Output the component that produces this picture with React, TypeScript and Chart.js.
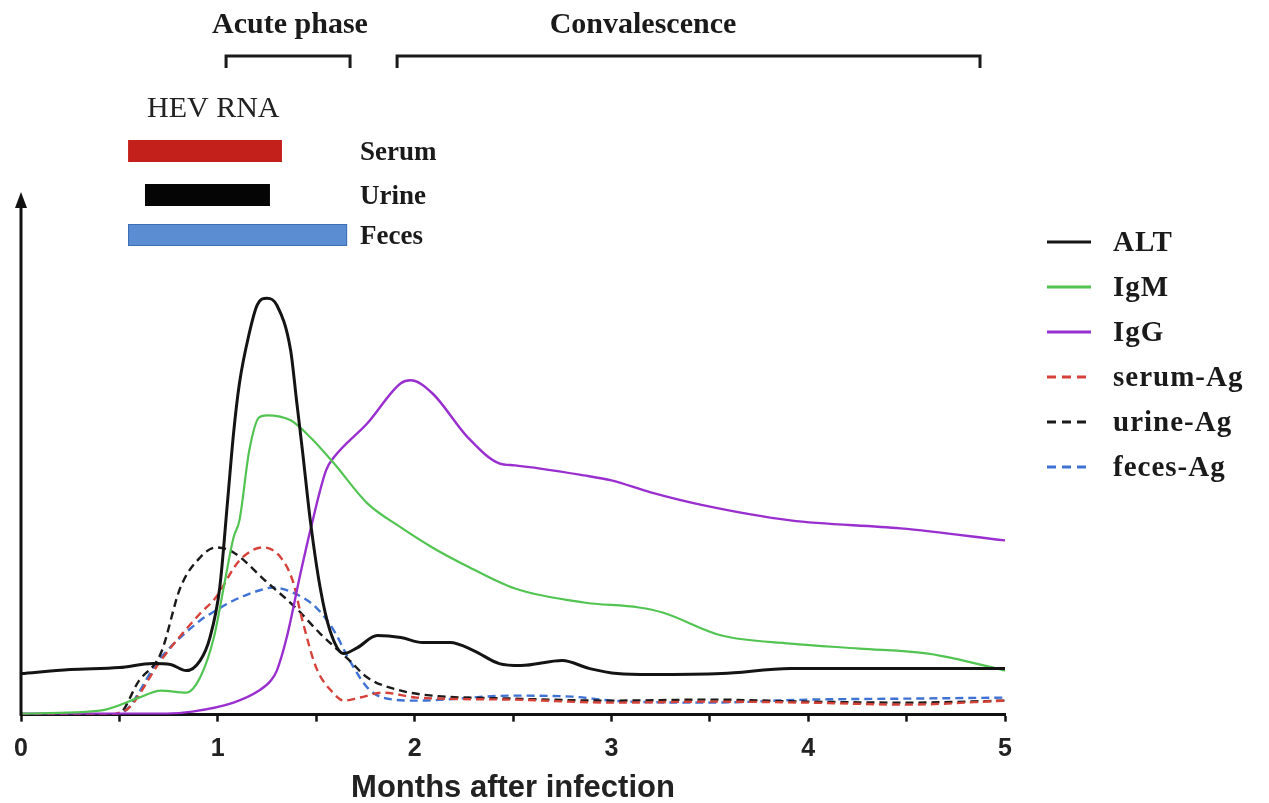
import React, { useEffect, useRef } from "react";
import { Chart, registerables } from "chart.js";

Chart.register(...registerables);

// ---- Data (x in months after infection, y in arbitrary units) ----
const altX = [0, 0.25, 0.5, 0.67, 0.76, 0.84, 0.91, 0.96, 1.01, 1.05, 1.08, 1.11, 1.16, 1.2, 1.25, 1.3, 1.37, 1.4, 1.43, 1.47, 1.52, 1.57, 1.64, 1.71, 1.81, 1.93, 2.04, 2.18, 2.3, 2.43, 2.54, 2.75, 2.89, 3.03, 3.2, 3.56, 3.91, 4.47, 5];
const altY = [41, 45, 47, 51, 50, 44, 54, 77, 127, 214, 281, 331, 381, 409, 416, 409, 364, 314, 264, 194, 127, 84, 61, 67, 79, 77, 72, 72, 64, 51, 49, 54, 46, 41, 40, 41, 46, 46, 46];

const igmX = [0, 0.4, 0.6, 0.71, 0.84, 0.91, 0.98, 1.03, 1.08, 1.11, 1.16, 1.21, 1.25, 1.37, 1.47, 1.59, 1.76, 1.93, 2.09, 2.28, 2.51, 2.86, 3.14, 3.26, 3.56, 3.91, 4.26, 4.61, 4.79, 5];
const igmY = [1, 4, 17, 24, 22, 37, 77, 127, 177, 194, 264, 297, 299, 294, 277, 251, 211, 187, 167, 147, 126, 112, 107, 102, 79, 71, 66, 61, 54, 44];

const iggX = [0, 0.49, 0.74, 0.87, 1.08, 1.21, 1.27, 1.3, 1.35, 1.42, 1.47, 1.55, 1.59, 1.76, 1.93, 1.98, 2.09, 2.27, 2.43, 2.51, 2.86, 3.0, 3.2, 3.47, 3.91, 4.47, 5];
const iggY = [1, 1, 1, 3, 12, 24, 34, 44, 77, 141, 184, 244, 257, 291, 331, 334, 321, 277, 251, 249, 239, 234, 222, 209, 194, 186, 174];

const serumAgX = [0, 0.45, 0.5, 0.55, 0.71, 0.91, 0.99, 1.11, 1.23, 1.32, 1.38, 1.43, 1.5, 1.59, 1.64, 1.72, 1.84, 2.01, 2.5, 3.0, 3.5, 4.0, 4.5, 5];
const serumAgY = [0, 0, 2, 7, 54, 101, 117, 154, 167, 157, 134, 94, 47, 21, 14, 17, 22, 17, 15, 12, 13, 12, 10, 14];

const urineAgX = [0, 0.49, 0.6, 0.71, 0.81, 0.91, 0.99, 1.08, 1.24, 1.4, 1.52, 1.67, 1.76, 1.93, 2.09, 2.5, 3.0, 3.5, 4.0, 4.5, 5];
const urineAgY = [0, 0, 34, 61, 127, 157, 167, 162, 134, 106, 81, 54, 37, 24, 19, 16, 14, 15, 13, 12, 14];

const fecesAgX = [0, 0.49, 0.71, 0.91, 0.99, 1.08, 1.21, 1.28, 1.38, 1.5, 1.59, 1.67, 1.76, 1.84, 2.01, 2.5, 2.8, 3.0, 3.5, 4.0, 4.5, 5];
const fecesAgY = [0, 0, 57, 94, 104, 114, 124, 127, 122, 107, 84, 54, 27, 17, 14, 19, 18, 14, 12, 15, 16, 17];

const xTicksMajor = [0, 1, 2, 3, 4, 5];

// HEV RNA detection windows (months)
const rnaLabels = ["Serum", "Urine", "Feces"];
const rnaStart = [0.544, 0.63, 0.544];
const rnaEnd = [1.326, 1.265, 1.657];
const rnaColors = ["#c4201b", "#050505", "#5a8dd2"];

// Phases (months)
const phaseLabels = ["Acute phase", "Convalescence"];
const phaseStart = [1.042, 1.911];
const phaseEnd = [1.672, 4.873];

const SANS = "'Liberation Sans', Arial, sans-serif";
const SERIF = "'Liberation Serif', 'Times New Roman', serif";
const Y_MAX = 520;

type Series = { label: string; x: number[]; y: number[]; color: string; width: number; dash: number[] };
const series: Series[] = [
  { label: "ALT", x: altX, y: altY, color: "#141414", width: 3, dash: [] },
  { label: "IgM", x: igmX, y: igmY, color: "#52c452", width: 2.2, dash: [] },
  { label: "IgG", x: iggX, y: iggY, color: "#9a2fcf", width: 2.4, dash: [] },
  { label: "serum-Ag", x: serumAgX, y: serumAgY, color: "#d6423a", width: 2.4, dash: [8, 5] },
  { label: "urine-Ag", x: urineAgX, y: urineAgY, color: "#1a1a1a", width: 2.4, dash: [8, 5] },
  { label: "feces-Ag", x: fecesAgX, y: fecesAgY, color: "#3f72d4", width: 2.4, dash: [8, 5] },
];

const overlayPlugin = {
  id: "overlay",
  afterDraw(chart: any) {
    const { ctx, chartArea, scales } = chart;
    const xs = scales.x;
    const ys = scales.y;
    ctx.save();

    // Y axis with arrow
    const ax = chartArea.left;
    const topPx = ys.getPixelForValue(Y_MAX);
    ctx.strokeStyle = "#111";
    ctx.fillStyle = "#111";
    ctx.lineWidth = 3;
    ctx.setLineDash([]);
    ctx.beginPath();
    ctx.moveTo(ax, chartArea.bottom + 1);
    ctx.lineTo(ax, topPx + 8);
    ctx.stroke();
    ctx.beginPath();
    ctx.moveTo(ax, topPx - 2);
    ctx.lineTo(ax - 6, topPx + 14);
    ctx.lineTo(ax + 6, topPx + 14);
    ctx.closePath();
    ctx.fill();

    // Phase brackets
    const bracketY = [56, 56];
    const phaseTextX = [290, 643];
    ctx.lineWidth = 3;
    ctx.strokeStyle = "#1a1a1a";
    phaseLabels.forEach((lab, i) => {
      const x1 = xs.getPixelForValue(phaseStart[i]);
      const x2 = xs.getPixelForValue(phaseEnd[i]);
      const by = bracketY[i];
      ctx.beginPath();
      ctx.moveTo(x1, by + 12);
      ctx.lineTo(x1, by);
      ctx.lineTo(x2, by);
      ctx.lineTo(x2, by + 12);
      ctx.stroke();
      ctx.fillStyle = "#1a1a1a";
      ctx.font = `bold 30px ${SERIF}`;
      ctx.textAlign = "center";
      ctx.textBaseline = "middle";
      ctx.fillText(lab, phaseTextX[i], 25);
    });

    // HEV RNA bars
    ctx.fillStyle = "#222";
    ctx.font = `30px ${SERIF}`;
    ctx.textAlign = "left";
    ctx.textBaseline = "middle";
    ctx.fillText("HEV RNA", 147, 109);
    const barCY = [151, 195, 235];
    const barH = 22;
    rnaLabels.forEach((lab, i) => {
      const x1 = xs.getPixelForValue(rnaStart[i]);
      const x2 = xs.getPixelForValue(rnaEnd[i]);
      ctx.fillStyle = rnaColors[i];
      ctx.fillRect(x1, barCY[i] - barH / 2, x2 - x1, barH);
      if (i === 2) {
        ctx.strokeStyle = "#3d6fb5";
        ctx.lineWidth = 1;
        ctx.strokeRect(x1 + 0.5, barCY[i] - barH / 2 + 0.5, x2 - x1 - 1, barH - 1);
      }
      ctx.fillStyle = "#1a1a1a";
      ctx.font = `bold 27px ${SERIF}`;
      ctx.fillText(lab, 360, barCY[i] + 2);
    });

    // Legend
    const lx1 = 1047;
    const lx2 = 1091;
    const tx = 1113;
    series.forEach((s, i) => {
      const cy = 242 + i * 45;
      ctx.strokeStyle = s.color;
      ctx.lineWidth = 3;
      ctx.setLineDash(s.dash.length ? [9, 6] : []);
      ctx.beginPath();
      ctx.moveTo(lx1, cy);
      ctx.lineTo(lx2, cy);
      ctx.stroke();
      ctx.setLineDash([]);
      ctx.fillStyle = "#1a1a1a";
      ctx.font = `bold 29px ${SERIF}`;
      try { (ctx as any).letterSpacing = "1px"; } catch (e) {}
      ctx.textAlign = "left";
      ctx.textBaseline = "middle";
      ctx.fillText(s.label, tx, cy + 2);
      try { (ctx as any).letterSpacing = "0px"; } catch (e) {}
    });

    ctx.restore();
  },
};

export default function App() {
  const canvasRef = useRef<HTMLCanvasElement | null>(null);

  useEffect(() => {
    if (!canvasRef.current) return;
    const chart = new Chart(canvasRef.current, {
      type: "line",
      data: {
        datasets: series.map((s) => ({
          label: s.label,
          data: s.x.map((x, i) => ({ x, y: s.y[i] })),
          borderColor: s.color,
          backgroundColor: s.color,
          borderWidth: s.width,
          borderDash: s.dash,
          pointRadius: 0,
          fill: false,
          cubicInterpolationMode: "monotone",
        })),
      },
      options: {
        animation: false,
        responsive: false,
        layout: { padding: { top: 194, left: 21, right: 264, bottom: 1 } },
        scales: {
          x: {
            type: "linear",
            min: 0,
            max: 5,
            afterBuildTicks: (axis: any) => {
              const t: any[] = [];
              for (let v = 0; v <= 10; v++) t.push({ value: v / 2 });
              axis.ticks = t;
            },
            ticks: {
              autoSkip: false,
              maxRotation: 0,
              padding: 12,
              color: "#222",
              font: { family: SANS, size: 25, weight: "bold" },
              callback: (v: any) => (xTicksMajor.includes(Number(v)) ? String(v) : ""),
            },
            grid: {
              display: true,
              drawOnChartArea: false,
              drawTicks: true,
              tickLength: 7,
              tickWidth: 2.5,
              tickColor: "#111",
            },
            border: { display: true, color: "#111", width: 3 },
            title: {
              display: true,
              text: "Months after infection",
              color: "#222",
              font: { family: SANS, size: 31, weight: "bold", lineHeight: 0.85 },
              padding: { top: 0, bottom: 0 },
            },
          },
          y: { display: false, min: 0, max: Y_MAX },
        },
        plugins: { legend: { display: false }, tooltip: { enabled: false } },
      },
      plugins: [overlayPlugin],
    } as any);
    return () => chart.destroy();
  }, []);

  return (
    <div style={{ position: "absolute", left: 0, top: 0, width: 1269, height: 803, background: "#fff" }}>
      <canvas ref={canvasRef} width={1269} height={803} style={{ display: "block" }} />
    </div>
  );
}
